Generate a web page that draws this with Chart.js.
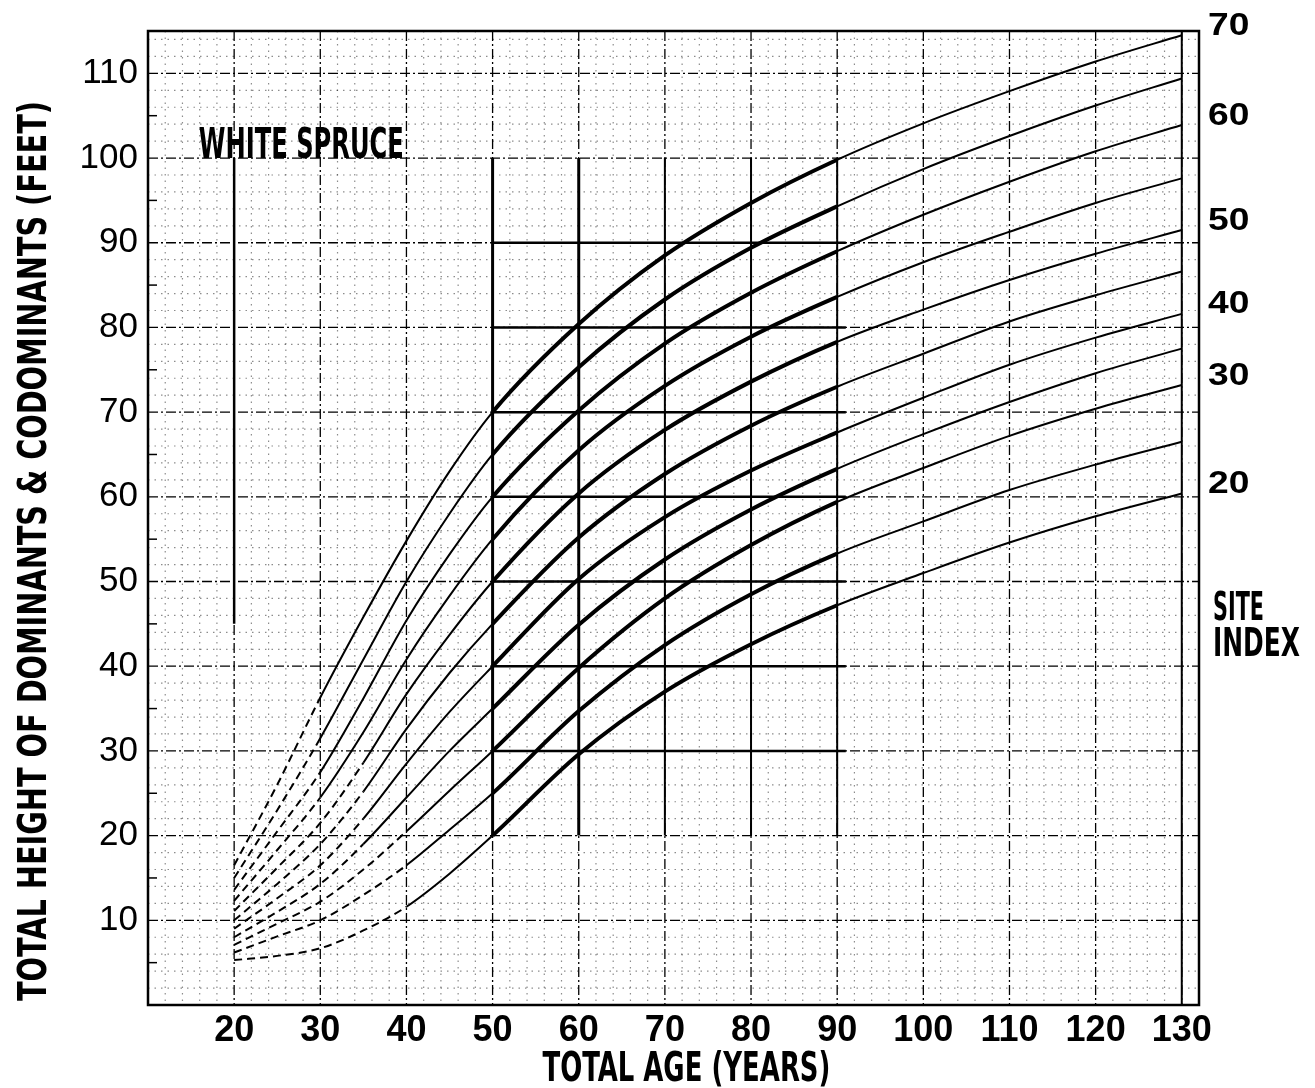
<!DOCTYPE html>
<html>
<head>
<meta charset="utf-8">
<title>White spruce site index curves</title>
<script src="https://cdn.jsdelivr.net/npm/chart.js@4.4.0/dist/chart.umd.min.js"></script>
<style>
html, body { margin: 0; padding: 0; background: #fff; }
#wrap { width: 1315px; height: 1088px; }
</style>
</head>
<body>
<div id="wrap"><canvas id="chart"></canvas></div>
<script>
const ages = [20, 25, 30, 35, 40, 45, 50, 60, 70, 80, 90, 100, 110, 120, 130]

// total height of dominants & codominants (feet), one list per site index curve
const si70 = [16.5, 26, 36.3, 45.8, 54.8, 63.0, 70, 80.4, 88.5, 94.7, 99.8, 104.1, 107.9, 111.4, 114.5]
const si65 = [15, 23, 31.5, 40.8, 50, 58.0, 65, 75.3, 83.3, 89.4, 94.3, 98.7, 102.6, 106.2, 109.4]
const si60 = [13.6, 20.5, 27.5, 36.2, 45.4, 53.2, 60, 70.2, 78.1, 84.1, 89, 93.3, 97.2, 100.8, 103.9]
const si55 = [12.3, 18.3, 24.5, 32.2, 40.8, 48.3, 55, 65.5, 73.1, 78.9, 83.6, 87.7, 91.3, 94.7, 97.6]
const si50 = [11.1, 16.2, 21.5, 28.6, 36.7, 43.7, 50, 60.4, 67.9, 73.6, 78.3, 82.1, 85.6, 88.7, 91.5]
const si45 = [10, 14.3, 19, 25.2, 32.6, 39.2, 45, 55.2, 62.7, 68.4, 73, 76.9, 80.7, 83.8, 86.6]
const si40 = [9, 12.6, 16.5, 22, 28.5, 34.6, 40, 50.3, 57.6, 63.1, 67.6, 71.7, 75.6, 78.8, 81.6]
const si35 = [8, 11, 14.3, 19, 24.5, 30, 35, 44.9, 52.6, 58.5, 63.3, 67.4, 71.2, 74.6, 77.5]
const si30 = [7.1, 9.6, 12.2, 16, 20.5, 25.3, 30, 39.8, 48.0, 54.3, 59.4, 63.4, 67.2, 70.4, 73.2]
const si25 = [6.2, 8.1, 10, 13, 16.5, 20.7, 25, 34.7, 42.5, 48.5, 53.3, 57.1, 60.8, 63.8, 66.5]
const si20 = [5.3, 5.8, 6.7, 8.8, 11.6, 15.5, 20, 29.6, 37.0, 42.6, 47.2, 51.0, 54.6, 57.7, 60.4]

const siteIndexes = [70, 65, 60, 55, 50, 45, 40, 35, 30, 25, 20]
const curves = [si70, si65, si60, si55, si50, si45, si40, si35, si30, si25, si20]
// the young part of each curve is only sketched (dashed) up to this age
const dashedUntil = [30, 30, 30, 30, 35, 35, 35, 35, 40, 40, 40]
// the curves are drawn heavy over the range the data covers
const heavyFrom = 50
const heavyTo = 90

const labelledSites = [70, 60, 50, 40, 30, 20]
const xTicks = [20, 30, 40, 50, 60, 70, 80, 90, 100, 110, 120, 130]
const yTicks = [10, 20, 30, 40, 50, 60, 70, 80, 90, 100, 110]

const condensed = '"DejaVu Sans Condensed", "Liberation Sans Narrow", sans-serif'
const plain = '"Liberation Sans", Arial, sans-serif'

// tall narrow lettering like the stencilled titles on the sheet
function stretchText(ctx, text, cx, cy, capHeight, width, angle, align) {
    ctx.save()
    ctx.font = `bold ${capHeight / 0.73}px ${condensed}`
    const natural = ctx.measureText(text).width
    ctx.translate(cx, cy)
    ctx.rotate(angle || 0)
    ctx.scale(width / natural, 1)
    ctx.textAlign = align || 'center'
    ctx.textBaseline = 'alphabetic'
    ctx.fillStyle = '#000'
    ctx.fillText(text, 0, capHeight / 2)
    ctx.restore()
}

function vline(ctx, px, top, bottom) {
    ctx.beginPath()
    ctx.moveTo(px, top)
    ctx.lineTo(px, bottom)
    ctx.stroke()
}

function hline(ctx, py, left, right) {
    ctx.beginPath()
    ctx.moveTo(left, py)
    ctx.lineTo(right, py)
    ctx.stroke()
}

const gridPaper = {
    id: 'gridPaper',
    beforeDatasetsDraw(chart) {
        const {ctx, chartArea: a, scales: {x, y}} = chart
        ctx.save()

        // fine dotted ruling
        ctx.lineWidth = 1.2
        ctx.strokeStyle = 'rgba(0,0,0,0.45)'
        ctx.setLineDash([1.5, 5])
        for (let v = 12; v < x.max; v += 2) {
            if (v % 10) vline(ctx, x.getPixelForValue(v), a.top, a.bottom)
        }
        for (let v = 2; v < y.max; v += 2) {
            if (v % 10) hline(ctx, y.getPixelForValue(v), a.left, a.right)
        }

        // major ruling every ten units
        ctx.strokeStyle = '#000'
        ctx.lineWidth = 1.3
        ctx.setLineDash([10, 3, 2, 3])
        for (const v of xTicks) vline(ctx, x.getPixelForValue(v), a.top, a.bottom)
        for (const v of yTicks) hline(ctx, y.getPixelForValue(v), a.left, a.right)

        // heavy inked box over the measured range
        ctx.setLineDash([])
        for (const v of xTicks) {
            if (v < heavyFrom || v > heavyTo) continue
            ctx.lineWidth = (v === 50 || v === 60) ? 3 : 2
            vline(ctx, x.getPixelForValue(v), y.getPixelForValue(100), y.getPixelForValue(20))
        }
        ctx.lineWidth = 2.5
        for (const v of yTicks) {
            if (v < 30 || v > 90) continue
            hline(ctx, y.getPixelForValue(v), x.getPixelForValue(heavyFrom), x.getPixelForValue(heavyTo + 1))
        }
        vline(ctx, x.getPixelForValue(20), y.getPixelForValue(100), y.getPixelForValue(45))
        ctx.lineWidth = 2
        vline(ctx, x.getPixelForValue(130), a.top, a.bottom)

        // short ticks at the fives along the left edge
        ctx.lineWidth = 1.5
        for (let v = 5; v < y.max; v += 10) {
            hline(ctx, y.getPixelForValue(v), a.left, a.left + 9)
        }

        // frame
        ctx.lineWidth = 2.5
        ctx.strokeRect(a.left, a.top, a.right - a.left, a.bottom - a.top)
        ctx.restore()
    }
}

const sheetText = {
    id: 'sheetText',
    afterDraw(chart) {
        const {ctx, chartArea: a, scales: {x, y}} = chart

        stretchText(ctx, 'WHITE SPRUCE', x.getPixelForValue(27.8), y.getPixelForValue(101.8), 31, 205)
        stretchText(ctx, 'TOTAL AGE (YEARS)', x.getPixelForValue(72.5), 1066, 30, 288)
        stretchText(ctx, 'TOTAL HEIGHT OF DOMINANTS & CODOMINANTS (FEET)', 31, (a.top + a.bottom) / 2 + 33, 29, 900, -Math.PI / 2)

        // site index labels at the end of their curves
        ctx.save()
        ctx.fillStyle = '#000'
        ctx.textBaseline = 'middle'
        ctx.textAlign = 'left'
        ctx.font = `bold 31px ${plain}`
        for (const si of labelledSites) {
            const heights = curves[siteIndexes.indexOf(si)]
            const py = Math.max(a.top - 9, y.getPixelForValue(heights[heights.length - 1]) - 9)
            ctx.save()
            ctx.translate(a.right + 9, py)
            ctx.scale(1.2, 1)
            ctx.fillText(String(si), 0, 0)
            ctx.restore()
        }
        ctx.restore()
        stretchText(ctx, 'SITE', a.right + 14, y.getPixelForValue(47.1), 28, 51, 0, 'left')
        stretchText(ctx, 'INDEX', a.right + 14, y.getPixelForValue(42.9), 28, 87, 0, 'left')
    }
}

const datasets = curves.map((heights, i) => ({
    label: 'Site index ' + siteIndexes[i],
    data: ages.map((age, j) => ({x: age, y: heights[j]})),
    borderColor: '#000',
    borderWidth: 2,
    pointRadius: 0,
    fill: false,
    cubicInterpolationMode: 'monotone',
    segment: {
        borderDash: ctx => ctx.p1.parsed.x <= dashedUntil[i] ? [8, 5] : [],
        borderWidth: ctx => (ctx.p0.parsed.x >= heavyFrom && ctx.p1.parsed.x <= heavyTo) ? 4 : 2
    }
}))

new Chart(document.getElementById('chart'), {
    type: 'line',
    data: {datasets},
    options: {
        responsive: true,
        maintainAspectRatio: false,
        animation: false,
        layout: {padding: {left: 0, top: 25, right: 116, bottom: 0}},
        plugins: {
            legend: {display: false},
            tooltip: {enabled: false},
            title: {display: false}
        },
        scales: {
            x: {
                type: 'linear',
                min: 10,
                max: 132,
                grid: {display: false, drawTicks: false},
                border: {display: false},
                afterBuildTicks: scale => { scale.ticks = xTicks.map(v => ({value: v})) },
                afterFit: scale => { scale.height = 83 },
                ticks: {
                    color: '#000',
                    padding: 4,
                    maxRotation: 0,
                    autoSkip: false,
                    font: {family: plain, size: 36, weight: 'bold'}
                }
            },
            y: {
                type: 'linear',
                min: 0,
                max: 115,
                grid: {display: false, drawTicks: false},
                border: {display: false},
                afterBuildTicks: scale => { scale.ticks = yTicks.map(v => ({value: v})) },
                afterFit: scale => { scale.width = 148 },
                ticks: {
                    color: '#000',
                    padding: 10,
                    autoSkip: false,
                    font: {family: plain, size: 35}
                }
            }
        }
    },
    plugins: [gridPaper, sheetText]
})
</script>
</body>
</html>
